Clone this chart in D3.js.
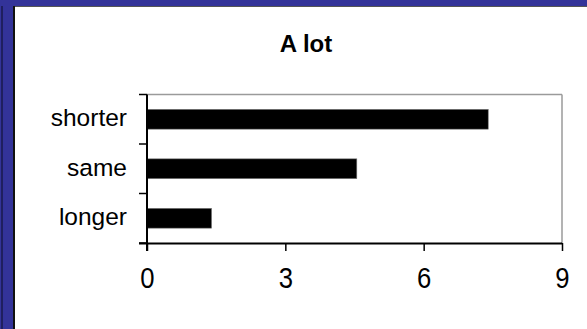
<!DOCTYPE html>
<html>
<head>
<meta charset="utf-8">
<script src="https://cdn.jsdelivr.net/npm/d3@7/dist/d3.min.js"></script>
<style>
  html, body { margin: 0; padding: 0; background: #fff; }
  svg { display: block; }
  text { font-family: "Liberation Sans", Arial, sans-serif; fill: #000; }
</style>
</head>
<body>
<script>
// Horizontal bar chart "A lot"
const title = "A lot";
const categories = ["shorter", "same", "longer"];
const values = [7.4, 4.55, 1.4];
const xTicks = [0, 3, 6, 9];

const W = 587, H = 329;
const plot = { left: 147, right: 562, top: 94.5, bottom: 243 };

const svg = d3.select("body").append("svg")
  .attr("width", W).attr("height", H);

// window frame: navy band along the top and left edge
svg.append("rect").attr("x", 0).attr("y", 0).attr("width", W).attr("height", H).attr("fill", "#fff");
svg.append("rect").attr("x", 0).attr("y", 0).attr("width", W).attr("height", 6).attr("fill", "#333399");
svg.append("rect").attr("x", 0).attr("y", 0).attr("width", 14).attr("height", H).attr("fill", "#333399");
svg.append("line").attr("x1", 14).attr("x2", W).attr("y1", 6.5).attr("y2", 6.5)
  .attr("stroke", "#555").attr("stroke-width", 1.2);
svg.append("line").attr("x1", 14).attr("x2", 14).attr("y1", 6).attr("y2", H)
  .attr("stroke", "#111").attr("stroke-width", 2);
svg.append("line").attr("x1", 2).attr("x2", 2).attr("y1", 6).attr("y2", H)
  .attr("stroke", "#1a1a4d").attr("stroke-width", 1.5);

// title
svg.append("text")
  .attr("x", 306).attr("y", 52)
  .attr("text-anchor", "middle")
  .attr("font-size", 24).attr("font-weight", "bold")
  .text(title);

// scales
const x = d3.scaleLinear().domain([0, 9]).range([plot.left, plot.right]);
const yBand = d3.scaleBand().domain(categories).range([plot.top, plot.bottom]).padding(0);
const yBar = d3.scaleBand().domain(categories).range([plot.top, plot.bottom])
  .paddingInner(0.6).paddingOuter(0.3);

// frame (top and right in gray)
svg.append("line").attr("x1", plot.left).attr("x2", plot.right).attr("y1", plot.top).attr("y2", plot.top)
  .attr("stroke", "#9a9a9a").attr("stroke-width", 1.5);
svg.append("line").attr("x1", plot.right).attr("x2", plot.right).attr("y1", plot.top).attr("y2", plot.bottom)
  .attr("stroke", "#9a9a9a").attr("stroke-width", 1.5);

// bars
svg.append("g").selectAll("rect")
  .data(categories)
  .join("rect")
  .attr("x", x(0))
  .attr("y", d => yBar(d))
  .attr("width", (d, i) => x(values[i]) - x(0))
  .attr("height", yBar.bandwidth())
  .attr("fill", "#000")
  .attr("stroke", "#777").attr("stroke-width", 0.6);

// x axis
const xAxis = svg.append("g")
  .attr("transform", `translate(0,${plot.bottom})`)
  .call(d3.axisBottom(x).tickValues(xTicks).tickSize(8).tickPadding(18).tickFormat(d3.format("d")));
xAxis.select(".domain").attr("stroke", "#000").attr("stroke-width", 2)
  .attr("d", `M${plot.left - 8},0.5H${plot.right}`);
xAxis.selectAll(".tick line").attr("stroke", "#000").attr("stroke-width", 1.5);
xAxis.selectAll(".tick text")
  .attr("font-family", "'Liberation Sans', Arial, sans-serif")
  .attr("font-size", 27).attr("fill", "#000")
  .attr("transform", "scale(0.95,1.12)")
  .attr("y", 21);

// y axis: line plus ticks at category boundaries
const yAxis = svg.append("g");
yAxis.append("line").attr("x1", plot.left).attr("x2", plot.left)
  .attr("y1", plot.top).attr("y2", plot.bottom + 8)
  .attr("stroke", "#000").attr("stroke-width", 2);
const bounds = categories.map(c => yBand(c)).concat([yBand(categories[categories.length - 1]) + yBand.step()]);
yAxis.selectAll("line.tk").data(bounds).join("line").attr("class", "tk")
  .attr("x1", plot.left - 8).attr("x2", plot.left)
  .attr("y1", d => d).attr("y2", d => d)
  .attr("stroke", "#000").attr("stroke-width", 1.5);
yAxis.selectAll("text").data(categories).join("text")
  .attr("x", 127)
  .attr("y", d => yBand(d) + yBand.bandwidth() / 2 + 7)
  .attr("text-anchor", "end")
  .attr("font-size", 24.5)
  .text(d => d);
</script>
</body>
</html>
